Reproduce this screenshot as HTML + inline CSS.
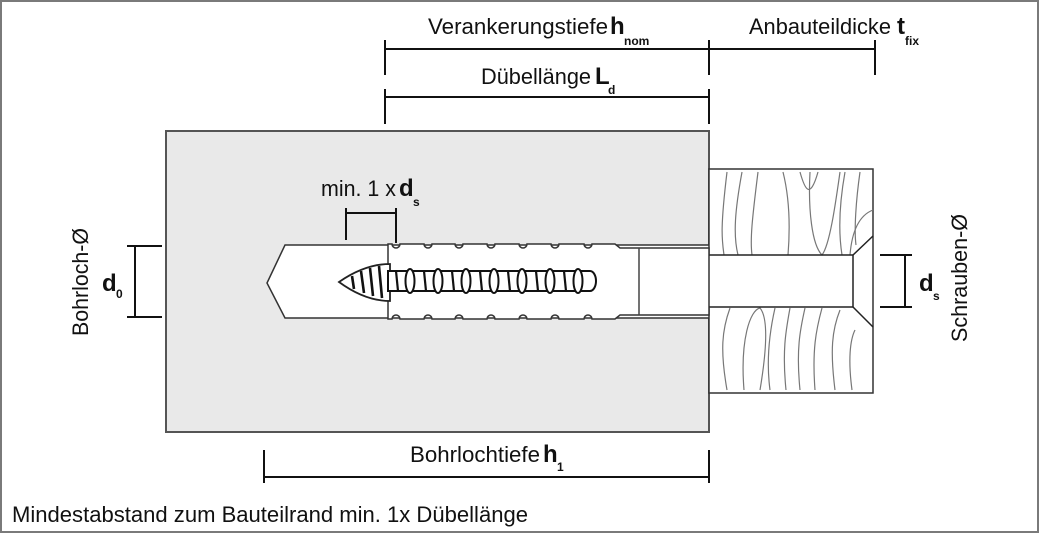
<!DOCTYPE html>
<html><head><meta charset="utf-8"><style>
html,body{margin:0;padding:0;background:#fff;width:1041px;height:534px;overflow:hidden}
svg{display:block}
text{font-family:"Liberation Sans Narrow","Liberation Sans",sans-serif;fill:#111}
</style></head><body>
<svg width="1041" height="534" viewBox="0 0 1041 534" xmlns="http://www.w3.org/2000/svg">
<rect x="1" y="1" width="1037" height="531" fill="#fff" stroke="#7a7a7a" stroke-width="2"/>
<rect x="166" y="131" width="543" height="301" fill="#e9e9e9" stroke="#555" stroke-width="2"/>
<path d="M709 245 L285 245 L267 283 L285 318 L709 318" fill="#fff" stroke="#333" stroke-width="1.5"/>
<rect x="709" y="169" width="164" height="224" fill="#fff" stroke="#333" stroke-width="1.5"/>
<g fill="none" stroke="#777" stroke-width="1.2">
<path d="M727 172 C720 230 722 240 724 255"/>
<path d="M742 172 C735 210 733 235 738 255"/>
<path d="M758 172 C752 220 750 240 752 255"/>
<path d="M783 172 C790 200 790 230 788 255"/>
<path d="M800 172 C805 190 810 200 818 172"/>
<path d="M810 172 C808 210 812 245 822 255 C830 245 836 200 840 172"/>
<path d="M845 172 C840 200 838 230 842 255"/>
<path d="M860 172 C856 200 854 230 856 245"/>
<path d="M873 210 C860 215 852 230 850 255"/>
<path d="M727 390 C720 350 722 330 730 308"/>
<path d="M744 390 C740 340 750 310 760 308 C770 320 765 360 760 390"/>
<path d="M770 390 C766 360 770 330 775 308"/>
<path d="M786 390 C782 350 786 330 790 308"/>
<path d="M800 390 C796 350 800 330 805 308"/>
<path d="M815 390 C812 350 816 330 822 308"/>
<path d="M835 390 C830 350 832 330 840 310"/>
<path d="M852 390 C848 360 850 340 855 330"/>
</g>
<rect x="709" y="256" width="144" height="50" fill="#fff"/>
<path d="M709 255 L853 255 L853 307 L709 307" fill="none" stroke="#222" stroke-width="1.5"/>
<path d="M853 255 L873 236 M853 307 L873 327" stroke="#222" stroke-width="1.5"/>
<path d="M388 244 L392 244 a4 4 0 0 0 8 0 L424 244 a4 4 0 0 0 8 0 L455 244 a4 4 0 0 0 8 0 L487 244 a4 4 0 0 0 8 0 L519 244 a4 4 0 0 0 8 0 L551 244 a4 4 0 0 0 8 0 L584 244 a4 4 0 0 0 8 0 L615 244 L620 248 L709 248 L709 315 L620 315 L615 319 L592 319 a4 4 0 0 0 -8 0 L559 319 a4 4 0 0 0 -8 0 L527 319 a4 4 0 0 0 -8 0 L495 319 a4 4 0 0 0 -8 0 L463 319 a4 4 0 0 0 -8 0 L432 319 a4 4 0 0 0 -8 0 L400 319 a4 4 0 0 0 -8 0 L388 319 Z" fill="#fff" stroke="#333" stroke-width="1.5"/>
<line x1="639" y1="248" x2="639" y2="315" stroke="#444" stroke-width="1.5"/>
<path d="M339 282 Q365 264 390 264 L390 301 Q365 301 339 282 Z" fill="#fff" stroke="#222" stroke-width="1.8"/>
<g stroke="#111" stroke-width="2.6">
<line x1="352" y1="276" x2="354" y2="289"/><line x1="361" y1="271" x2="364" y2="293"/><line x1="370" y1="268" x2="373" y2="296"/><line x1="379" y1="266" x2="382" y2="298"/>
</g>
<path d="M388 271 L590 271 a6 10 0 0 1 0 20 L388 291 Z" fill="#fff" stroke="#111" stroke-width="2"/>
<g fill="#fff" stroke="#111" stroke-width="2">
<ellipse cx="410" cy="281" rx="4.5" ry="12"/><ellipse cx="438" cy="281" rx="4.5" ry="12"/><ellipse cx="466" cy="281" rx="4.5" ry="12"/><ellipse cx="494" cy="281" rx="4.5" ry="12"/><ellipse cx="522" cy="281" rx="4.5" ry="12"/><ellipse cx="550" cy="281" rx="4.5" ry="12"/><ellipse cx="578" cy="281" rx="4.5" ry="12"/>
</g>
<g stroke="#111" stroke-width="2.2">
<line x1="396" y1="271" x2="398" y2="291"/><line x1="424" y1="271" x2="426" y2="291"/><line x1="452" y1="271" x2="454" y2="291"/><line x1="480" y1="271" x2="482" y2="291"/><line x1="508" y1="271" x2="510" y2="291"/><line x1="536" y1="271" x2="538" y2="291"/><line x1="564" y1="271" x2="566" y2="291"/>
</g>
<g stroke="#111" stroke-width="2" fill="none">
<path d="M385 49 L875 49 M385 40 L385 75 M709 40 L709 75 M875 40 L875 75"/>
<path d="M385 97 L709 97 M385 89 L385 124 M709 89 L709 124"/>
<path d="M264 477 L709 477 M264 450 L264 483 M709 450 L709 483"/>
<path d="M346 213 L396 213 M346 208 L346 240 M396 208 L396 243"/>
<path d="M135 246 L135 317 M127 246 L162 246 M127 317 L162 317"/>
<path d="M905 255 L905 307 M880 255 L912 255 M880 307 L912 307"/>
</g>
<text x="428" y="34" font-size="22" textLength="180" lengthAdjust="spacingAndGlyphs">Verankerungstiefe</text>
<text x="610" y="34" font-size="24" font-weight="bold">h</text>
<text x="624" y="45" font-size="12" font-weight="bold">nom</text>
<text x="749" y="34" font-size="22" textLength="142" lengthAdjust="spacingAndGlyphs">Anbauteildicke</text>
<text x="897" y="34" font-size="24" font-weight="bold">t</text>
<text x="905" y="45" font-size="12" font-weight="bold">fix</text>
<text x="481" y="84" font-size="22" textLength="110" lengthAdjust="spacingAndGlyphs">Dübellänge</text>
<text x="595" y="84" font-size="24" font-weight="bold">L</text>
<text x="608" y="94" font-size="12" font-weight="bold">d</text>
<text x="321" y="196" font-size="22" textLength="75" lengthAdjust="spacingAndGlyphs">min. 1 x</text>
<text x="399" y="196" font-size="24" font-weight="bold">d</text>
<text x="413" y="206" font-size="12" font-weight="bold">s</text>
<text x="410" y="462" font-size="22" textLength="130" lengthAdjust="spacingAndGlyphs">Bohrlochtiefe</text>
<text x="543" y="462" font-size="24" font-weight="bold">h</text>
<text x="557" y="471" font-size="12" font-weight="bold">1</text>
<text x="102" y="291" font-size="24" font-weight="bold">d</text>
<text x="116" y="298" font-size="12" font-weight="bold">0</text>
<text x="919" y="291" font-size="24" font-weight="bold">d</text>
<text x="933" y="300" font-size="12" font-weight="bold">s</text>
<text transform="translate(88,336) rotate(-90)" font-size="22" textLength="108" lengthAdjust="spacingAndGlyphs">Bohrloch-Ø</text>
<text transform="translate(967,342) rotate(-90)" font-size="22" textLength="128" lengthAdjust="spacingAndGlyphs">Schrauben-Ø</text>
<text x="12" y="522" font-size="22" textLength="516" lengthAdjust="spacingAndGlyphs">Mindestabstand zum Bauteilrand min. 1x Dübellänge</text>
</svg>
</body></html>
